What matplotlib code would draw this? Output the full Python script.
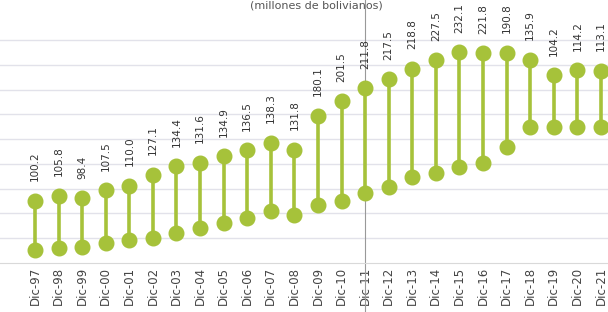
import numpy as np
import matplotlib.pyplot as plt

# periodos (diciembre de cada año)
periodos = ["Dic-97", "Dic-98", "Dic-99", "Dic-00", "Dic-01", "Dic-02", "Dic-03",
            "Dic-04", "Dic-05", "Dic-06", "Dic-07", "Dic-08", "Dic-09", "Dic-10",
            "Dic-11", "Dic-12", "Dic-13", "Dic-14", "Dic-15", "Dic-16", "Dic-17",
            "Dic-18", "Dic-19", "Dic-20", "Dic-21"]

# serie inferior
inferior = [26, 30, 32, 40, 46, 51, 61, 71, 81, 91, 105, 97, 117, 125,
            141, 154, 174, 182, 194, 202, 234, 275, 275, 275, 275]

# diferencia entre las dos series (etiquetas)
brecha = [100.2, 105.8, 98.4, 107.5, 110.0, 127.1, 134.4, 131.6, 134.9, 136.5,
          138.3, 131.8, 180.1, 201.5, 211.8, 217.5, 218.8, 227.5, 232.1, 221.8,
          190.8, 135.9, 104.2, 114.2, 113.1]

superior = [a + b for a, b in zip(inferior, brecha)]

verde = "#a6c23a"

fig = plt.figure(figsize=(6.08, 3.12), dpi=100)
ax = fig.add_axes([0, 49 / 312, 1, 225 / 312])

x = np.arange(len(periodos))
ax.vlines(x, inferior, superior, color=verde, lw=2.6, zorder=3)
ax.plot(x, inferior, "o", color=verde, ms=10.5, zorder=4)
ax.plot(x, superior, "o", color=verde, ms=10.5, zorder=4)

for xi, yi, b in zip(x, superior, brecha):
    ax.annotate(f"{b:.1f}", (xi, yi), xytext=(0, 14), textcoords="offset points",
                rotation=90, ha="center", va="bottom", fontsize=7.5,
                color="#333333", annotation_clip=False)

# linea divisoria
ax.axvline(14, ymin=-0.3, ymax=1.3, color="#999999", lw=0.8, clip_on=False, zorder=1)

ax.set_xlim((0 - 35) / 23.58, (608 - 35) / 23.58)
ax.set_ylim(0, 454.5)
ax.set_yticks(np.arange(50, 451, 50))
ax.yaxis.grid(True, color="#e2e2ea", lw=1)
ax.set_axisbelow(True)
ax.tick_params(axis="y", left=False, labelleft=False)
ax.set_xticks(x)
ax.set_xticklabels(periodos, rotation=90, fontsize=8.5, color="#444444")
ax.tick_params(axis="x", length=0, pad=3)
for s in ["top", "right", "left"]:
    ax.spines[s].set_visible(False)
ax.spines["bottom"].set_color("#d9d9d9")

fig.text(0.52, 0.998, "(millones de bolivianos)", ha="center", va="top",
         fontsize=8, color="#555555")

fig.savefig("out.png", dpi=100)
